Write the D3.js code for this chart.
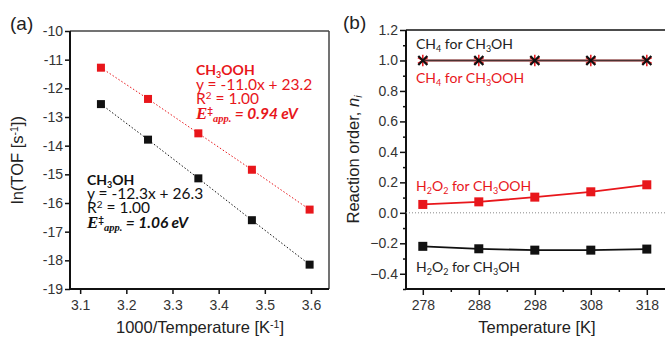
<!DOCTYPE html>
<html>
<head>
<meta charset="utf-8">
<script src="https://cdn.jsdelivr.net/npm/d3@7"></script>
<style>
  body { margin: 0; background: #fff; }
  svg { display: block; }
  .tick text { font-family: "Liberation Sans", Arial, sans-serif; font-size: 14px; fill: #333; }
  .note { font-family: Lato, "Open Sans", sans-serif; font-size: 14px; }
  .eq { font-family: Lato, "Open Sans", sans-serif; font-size: 15.5px; }
  .axlabel { font-family: "Liberation Sans", Arial, sans-serif; font-size: 16.5px; fill: #222; }
</style>
</head>
<body>
<svg id="chart" width="665" height="338"></svg>
<script>
// panel (a): Arrhenius plot
const invT = [3.145, 3.247, 3.356, 3.472, 3.597]
const lnTofOOH = [-11.28, -12.37, -13.57, -14.84, -16.23]
const lnTofOH = [-12.55, -13.79, -15.14, -16.6, -18.15]
const aXTicks = [3.1, 3.2, 3.3, 3.4, 3.5, 3.6]
const aYTicks = [-10, -11, -12, -13, -14, -15, -16, -17, -18, -19]

// panel (b): reaction orders
const temps = [278, 288, 298, 308, 318]
const ch4ForOH = [1.0, 1.0, 1.0, 1.0, 1.0]
const ch4ForOOH = [1.0, 1.0, 1.0, 1.0, 1.0]
const h2o2ForOOH = [0.055, 0.072, 0.103, 0.138, 0.184]
const h2o2ForOH = [-0.22, -0.236, -0.245, -0.245, -0.238]
const bXTicks = [278, 288, 298, 308, 318]
const bYTicks = [1.2, 1.0, 0.8, 0.6, 0.4, 0.2, 0.0, -0.2, -0.4]

const red = "#e8161b"
const svg = d3.select("#chart")

//write text with sub/superscripts, parts = [[text, "sub"|"sup"|null, extra style]]
function richText(g, x, y, parts, cls, color, weight){
    const t = g.append("text").attr("class", cls).attr("x", x).attr("y", y)
        .attr("fill", color).attr("font-weight", weight || "normal")
    let shift = 0
    for(const p of parts){
        let target = 0
        if(p[1] === "sub") target = 3
        if(p[1] === "sup") target = -5
        const s = t.append("tspan").text(p[0]).attr("dy", target - shift)
        shift = target
        if(p[1]) s.attr("font-size", "0.64em")
        if(p[2]) for(const k in p[2]) s.style(k, p[2][k])
    }
    return t
}

// ---------- panel (a)
const aLeft = 70, aRight = 329, aTop = 31, aBottom = 289
const ax = d3.scaleLinear().domain([3.078, 3.639]).range([aLeft, aRight])
const ay = d3.scaleLinear().domain([-19, -10]).range([aBottom, aTop])

const ga = svg.append("g")
// box (thin grey top / right)
ga.append("line").attr("x1", aLeft).attr("x2", aRight).attr("y1", aTop).attr("y2", aTop)
    .attr("stroke", "#444").attr("stroke-width", 1.5)
ga.append("line").attr("x1", aRight).attr("x2", aRight).attr("y1", aTop).attr("y2", aBottom)
    .attr("stroke", "#444").attr("stroke-width", 1.5)

const axA = ga.append("g").attr("transform", `translate(0,${aBottom})`)
    .call(d3.axisBottom(ax).tickValues(aXTicks).tickFormat(d3.format(".1f")).tickSize(5).tickSizeOuter(0).tickPadding(6))
const ayA = ga.append("g").attr("transform", `translate(${aLeft},0)`)
    .call(d3.axisLeft(ay).tickValues(aYTicks).tickFormat(d => d).tickSize(5).tickSizeOuter(0).tickPadding(2))
for(const g of [axA, ayA]){
    g.select(".domain").attr("stroke", "#111").attr("stroke-width", 2)
    g.selectAll(".tick line").attr("stroke", "#111").attr("stroke-width", 1.5)
}
// make the axes meet
axA.select(".domain").attr("d", `M${aLeft - 1},0H${aRight}`)
ayA.select(".domain").attr("d", `M0,${aBottom}V${aTop}`)

const lineA = d3.line().x((d, i) => ax(invT[i])).y(d => ay(d))
const seriesA = [[lnTofOOH, red], [lnTofOH, "#111"]]
for(const [vals, col] of seriesA){
    ga.append("path").attr("d", lineA(vals)).attr("fill", "none")
        .attr("stroke", col).attr("stroke-width", 1).attr("stroke-dasharray", "1.5,2")
    ga.selectAll(null).data(vals).enter().append("rect")
        .attr("x", (d, i) => ax(invT[i]) - 4).attr("y", d => ay(d) - 4)
        .attr("width", 8).attr("height", 8).attr("fill", col)
}

// annotations (a)
const serifE = {"font-family": "'Liberation Serif', serif", "font-style": "italic", "font-size": "17px"}
const serifSub = {"font-family": "'Liberation Serif', serif", "font-style": "italic", "font-size": "10.5px"}
richText(ga, 196, 75, [["CH"], ["3", "sub"], ["OOH"]], "note", red, "bold")
richText(ga, 196, 90, [["y = -11.0x + 23.2"]], "eq", red)
richText(ga, 196, 104, [["R"], ["2", "sup"], [" = 1.00"]], "eq", red)
richText(ga, 196, 119, [["E", null, serifE], ["‡", "sup"], ["app.", "sub", serifSub],
    [" = 0.94 eV", null, {"font-style": "italic"}]], "eq", red, "bold")

richText(ga, 87, 185, [["CH"], ["3", "sub"], ["OH"]], "note", "#111", "bold")
richText(ga, 87, 199, [["y = -12.3x + 26.3"]], "eq", "#111")
richText(ga, 87, 213, [["R"], ["2", "sup"], [" = 1.00"]], "eq", "#111")
richText(ga, 87, 228, [["E", null, serifE], ["‡", "sup"], ["app.", "sub", serifSub],
    [" = 1.06 eV", null, {"font-style": "italic"}]], "eq", "#111", "bold")

ga.append("text").attr("x", 10).attr("y", 30).text("(a)")
    .attr("font-family", "'Liberation Sans', Arial, sans-serif").attr("font-size", 19).attr("fill", "#222")
richText(ga, 200, 333, [["1000/Temperature [K"], ["-1", "sup"], ["]"]], "axlabel", "#222")
    .attr("text-anchor", "middle")
richText(ga, 0, 0, [["ln(TOF [s"], ["-1", "sup"], ["])"]], "axlabel", "#222")
    .attr("text-anchor", "middle").attr("transform", `translate(23,${(aTop + aBottom) / 2}) rotate(-90)`)

// ---------- panel (b)
const bLeft = 406, bTop = 30, bBottom = 289
const bx = d3.scaleLinear().domain([275, 322]).range([bLeft, bLeft + 47 * 5.6])
const by = d3.scaleLinear().domain([-0.5, 1.2]).range([bBottom, bTop])
const gb = svg.append("g")

gb.append("line").attr("x1", bLeft).attr("x2", 665).attr("y1", bTop).attr("y2", bTop)
    .attr("stroke", "#111").attr("stroke-width", 1.5)

// minor ticks
const bXMinor = d3.range(283, 322, 10)
const bYMinor = d3.range(-0.5, 1.2, 0.2).map(d => +d.toFixed(1))
gb.append("g").attr("transform", `translate(0,${bBottom})`)
    .call(d3.axisBottom(bx).tickValues(bXMinor).tickFormat("").tickSize(3).tickSizeOuter(0))
    .call(g => g.select(".domain").remove())
    .selectAll("line").attr("stroke", "#111").attr("stroke-width", 1.5)
gb.append("g").attr("transform", `translate(${bLeft},0)`)
    .call(d3.axisLeft(by).tickValues(bYMinor).tickFormat("").tickSize(3).tickSizeOuter(0))
    .call(g => g.select(".domain").remove())
    .selectAll("line").attr("stroke", "#111").attr("stroke-width", 1.5)

const axB = gb.append("g").attr("transform", `translate(0,${bBottom})`)
    .call(d3.axisBottom(bx).tickValues(bXTicks).tickSize(6).tickSizeOuter(0).tickPadding(5))
const ayB = gb.append("g").attr("transform", `translate(${bLeft},0)`)
    .call(d3.axisLeft(by).tickValues(bYTicks).tickFormat(d3.format(".1f")).tickSize(6).tickSizeOuter(0).tickPadding(2))
for(const g of [axB, ayB]){
    g.select(".domain").attr("stroke", "#111").attr("stroke-width", 2)
    g.selectAll(".tick line").attr("stroke", "#111").attr("stroke-width", 1.5)
}
axB.select(".domain").attr("d", `M${bLeft - 1},0H665`)
ayB.select(".domain").attr("d", `M0,${bBottom}V${bTop}`)

// zero reference
gb.append("line").attr("x1", bLeft).attr("x2", 665).attr("y1", by(0)).attr("y2", by(0))
    .attr("stroke", "#888").attr("stroke-width", 1).attr("stroke-dasharray", "1,2")

const lineB = d3.line().x((d, i) => bx(temps[i])).y(d => by(d))

// CH4 orders: red asterisk under black cross
gb.append("path").attr("d", lineB(ch4ForOOH)).attr("fill", "none").attr("stroke", "#a33").attr("stroke-width", 2)
gb.append("path").attr("d", lineB(ch4ForOH)).attr("fill", "none").attr("stroke", "#333").attr("stroke-width", 1.4).attr("opacity", 0.8)
gb.selectAll(null).data(ch4ForOOH).enter().append("path")
    .attr("transform", (d, i) => `translate(${bx(temps[i])},${by(d)})`)
    .attr("d", d3.symbol(d3.symbolAsterisk, 90)).attr("fill", "none").attr("stroke", red).attr("stroke-width", 1.5)
gb.selectAll(null).data(ch4ForOH).enter().append("path")
    .attr("transform", (d, i) => `translate(${bx(temps[i])},${by(d)})`)
    .attr("d", d3.symbol(d3.symbolTimes, 55)).attr("fill", "none").attr("stroke", "#111").attr("stroke-width", 2.2)

// H2O2 orders
for(const [vals, col] of [[h2o2ForOOH, red], [h2o2ForOH, "#111"]]){
    gb.append("path").attr("d", lineB(vals)).attr("fill", "none").attr("stroke", col).attr("stroke-width", 1.8)
    gb.selectAll(null).data(vals).enter().append("rect")
        .attr("x", (d, i) => bx(temps[i]) - 4.5).attr("y", d => by(d) - 4.5)
        .attr("width", 9).attr("height", 9).attr("fill", col)
}

richText(gb, 416, 49, [["CH"], ["4", "sub"], [" for CH"], ["3", "sub"], ["OH"]], "note", "#222")
richText(gb, 416, 83, [["CH"], ["4", "sub"], [" for CH"], ["3", "sub"], ["OOH"]], "note", red)
richText(gb, 416, 191, [["H"], ["2", "sub"], ["O"], ["2", "sub"], [" for CH"], ["3", "sub"], ["OOH"]], "note", red)
richText(gb, 416, 272, [["H"], ["2", "sub"], ["O"], ["2", "sub"], [" for CH"], ["3", "sub"], ["OH"]], "note", "#222")

gb.append("text").attr("x", 343).attr("y", 29).text("(b)")
    .attr("font-family", "'Liberation Sans', Arial, sans-serif").attr("font-size", 19).attr("fill", "#222")
gb.append("text").attr("class", "axlabel").attr("x", 537).attr("y", 333).attr("text-anchor", "middle")
    .text("Temperature [K]")
richText(gb, 0, 0, [["Reaction order, "], ["n", null, {"font-style": "italic"}], ["i", "sub", {"font-style": "italic"}]], "axlabel", "#222")
    .attr("text-anchor", "middle").attr("transform", `translate(359,${(bTop + bBottom) / 2}) rotate(-90)`)
</script>
</body>
</html>
